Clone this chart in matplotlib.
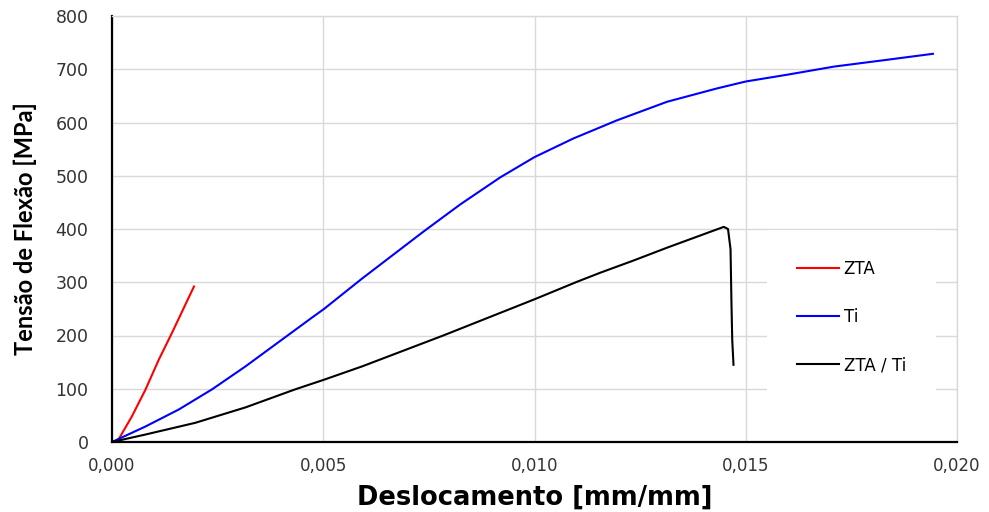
import matplotlib
matplotlib.use('Agg')
import matplotlib.pyplot as plt

# curvas (deformacao, tensao)
zta_x = [0.00012, 0.00047, 0.00079, 0.00111, 0.00142, 0.00194]
zta_y = [0, 48, 98, 155, 205, 292]

ti_x = [0.0, 0.00079, 0.00158, 0.00237, 0.00316, 0.00395, 0.00474, 0.00502,
        0.00592, 0.00737, 0.00824, 0.00919, 0.0100, 0.01092, 0.01195,
        0.01314, 0.01432, 0.0150, 0.0160, 0.01709, 0.01827, 0.01943]
ti_y = [0, 29, 61, 99, 142, 188, 234, 250, 307, 395, 446, 497, 535, 570,
        604, 639, 664, 677, 690, 705, 717, 729]

zta_ti_x = [0.0, 0.00079, 0.00197, 0.00316, 0.00434, 0.00502, 0.00592,
            0.00784, 0.0100, 0.01101, 0.01156, 0.01235, 0.01314, 0.01448,
            0.01458, 0.01464, 0.01466, 0.01468, 0.01471]
zta_ti_y = [0, 14, 36, 65, 99, 117, 142, 200, 268, 301, 318, 341, 365, 404,
            400, 362, 268, 192, 145]

x_ticks = [0.0, 0.005, 0.010, 0.015, 0.020]
x_tick_labels = ['0,000', '0,005', '0,010', '0,015', '0,020']
y_ticks = [0, 100, 200, 300, 400, 500, 600, 700, 800]
y_tick_labels = ['0', '100', '200', '300', '400', '500', '600', '700', '800']

fig = plt.figure(figsize=(9.89, 5.12), dpi=100)
ax = fig.add_axes([112 / 989, 1 - 442 / 512, 845 / 989, 426 / 512])

ax.plot(zta_x, zta_y, color='#ff0000', lw=1.5, label='ZTA')
ax.plot(ti_x, ti_y, color='#0000ff', lw=1.5, label='Ti')
ax.plot(zta_ti_x, zta_ti_y, color='black', lw=1.5, label='ZTA / Ti')

ax.set_xlim(0, 0.020)
ax.set_ylim(0, 800)
ax.set_xticks(x_ticks)
ax.set_xticklabels(x_tick_labels, fontsize=12, color='#333333')
ax.set_yticks(y_ticks)
ax.set_yticklabels(y_tick_labels, fontsize=12.5, color='#333333')
ax.tick_params(axis='x', length=0, pad=11)
ax.tick_params(axis='y', length=0, pad=17)

ax.grid(True, color='#d9d9d9', lw=1)
ax.set_axisbelow(True)
for s in ['top', 'right']:
    ax.spines[s].set_color('#d9d9d9')
    ax.spines[s].set_linewidth(1)
for s in ['left', 'bottom']:
    ax.spines[s].set_color('black')
    ax.spines[s].set_linewidth(1.6)

ax.set_xlabel('Deslocamento [mm/mm]', fontsize=18.5, fontweight='bold',
              family='DejaVu Sans', labelpad=7)
fig.text(25 / 989, 1 - 229 / 512, 'Tensão de Flexão [MPa]', rotation=90,
         fontsize=17, fontweight='bold', family='Lato',
         ha='center', va='center')

leg = ax.legend(loc='center left', bbox_to_anchor=(0.775, 0.2934),
                borderaxespad=0, borderpad=1.8, fontsize=12,
                handlelength=2.5, handletextpad=0.3, labelspacing=1.8,
                frameon=True, fancybox=False)
leg.get_frame().set_facecolor('white')
leg.get_frame().set_edgecolor('none')
leg.get_frame().set_alpha(1)

plt.savefig('out.png', dpi=100)
